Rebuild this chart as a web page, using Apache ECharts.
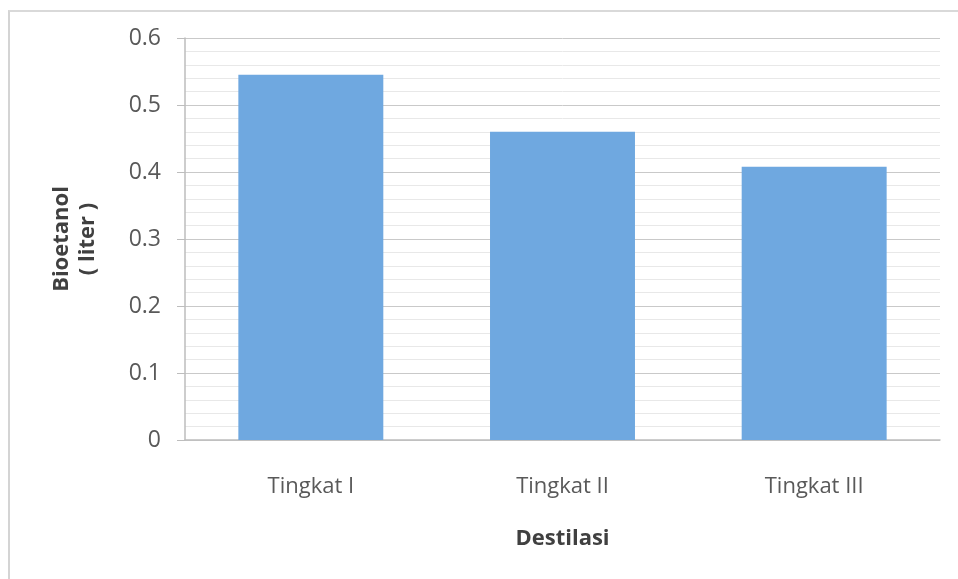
<!DOCTYPE html>
<html>
<head>
<meta charset="utf-8">
<script src="https://cdn.jsdelivr.net/npm/echarts@6/dist/echarts.min.js"></script>
<style>
  html, body {
    margin: 0;
    padding: 0;
    background: #fff;
  }
  .frame {
    position: absolute;
    left: 8px;
    top: 10px;
    width: 960px;
    height: 580px;
    border-left: 2px solid #d4d4d4;
    border-top: 2px solid #d9d9d9;
  }
  #chart {
    position: absolute;
    left: 0;
    top: 0;
    width: 958px;
    height: 579px;
  }
</style>
</head>
<body>
<div class="frame"></div>
<div id="chart"></div>
<script>
const categories = ['Tingkat I', 'Tingkat II', 'Tingkat III']
const bioetanol = [0.545, 0.46, 0.408]

let myChart = echarts.init(document.getElementById('chart'))
let option = {
  animation: false,
  grid: {
    left: 185,
    right: 18,
    top: 38,
    bottom: 139
  },
  xAxis: {
    type: 'category',
    data: categories,
    name: 'Destilasi',
    nameLocation: 'middle',
    nameGap: 88,
    nameTextStyle: {
      color: '#404040',
      fontSize: 22,
      fontWeight: 'bold',
      fontFamily: 'Open Sans'
    },
    axisLine: {
      lineStyle: { color: '#bdbdbd', width: 1.5 }
    },
    axisTick: { show: false },
    axisLabel: {
      color: '#595959',
      fontSize: 22,
      fontFamily: 'Open Sans',
      margin: 36
    }
  },
  yAxis: {
    type: 'value',
    min: 0,
    max: 0.6,
    interval: 0.1,
    name: 'Bioetanol\n( liter )',
    nameLocation: 'middle',
    nameGap: 84,
    nameRotate: 90,
    nameTextStyle: {
      color: '#404040',
      fontSize: 22,
      fontWeight: 'bold',
      fontFamily: 'Open Sans',
      lineHeight: 26
    },
    axisLine: {
      show: true,
      lineStyle: { color: '#bdbdbd', width: 1.5 }
    },
    axisTick: {
      show: true,
      length: 8,
      lineStyle: { color: '#bdbdbd' }
    },
    axisLabel: {
      color: '#595959',
      fontSize: 23,
      fontFamily: 'Open Sans',
      margin: 24,
      formatter: function (v) {
        return String(Math.round(v * 10) / 10)
      }
    },
    splitLine: {
      lineStyle: { color: '#c9c9c9', width: 1 }
    },
    minorTick: { show: false, splitNumber: 5 },
    minorSplitLine: {
      show: true,
      lineStyle: { color: '#e8e8e8', width: 1 }
    }
  },
  series: [{
    name: 'Bioetanol',
    type: 'bar',
    data: bioetanol,
    barWidth: '57.6%',
    itemStyle: { color: '#6fa8e0' }
  }]
}
myChart.setOption(option)
</script>
</body>
</html>
